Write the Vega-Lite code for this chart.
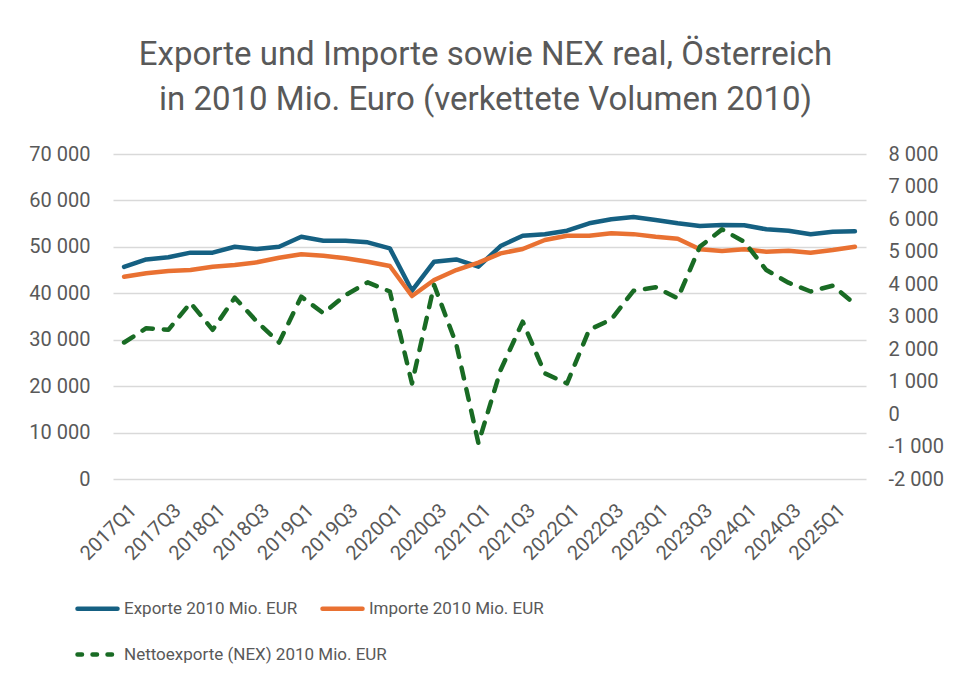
{
  "$schema": "https://vega.github.io/schema/vega-lite/v6.json",
  "width": 753,
  "height": 325,
  "autosize": {"type": "none"},
  "padding": {"left": 113, "top": 154, "right": 88, "bottom": 204},
  "background": "white",
  "config": {
    "locale": {"number": {"decimal": ",", "thousands": " ", "grouping": [3], "currency": ["", " €"], "minus": "-"}},
    "view": {"stroke": null},
    "font": "Roboto",
    "axis": {"labelColor": "#595959", "labelFontSize": 20, "labelFont": "Roboto", "ticks": false, "domain": false, "title": null},
    "legend": {"orient": "none", "direction": "horizontal", "title": null, "symbolType": "stroke", "symbolSize": 1600, "symbolStrokeWidth": 4.5, "labelFont": "Roboto", "labelFontSize": 17, "labelColor": "#595959", "labelOffset": 4, "labelLimit": 0}
  },
  "title": {
    "text": ["Exporte und Importe sowie NEX real, Österreich", "in 2010 Mio. Euro (verkettete Volumen 2010)"],
    "fontSize": 33,
    "font": "Roboto",
    "fontWeight": "normal",
    "color": "#595959",
    "lineHeight": 45,
    "anchor": "middle",
    "dx": -4,
    "offset": 27
  },
  "data": {
    "values": [
      {"q": "2017Q1", "Exporte": 45700, "Importe": 43570, "NEX": 2200},
      {"q": "2017Q2", "Exporte": 47300, "Importe": 44300, "NEX": 2640},
      {"q": "2017Q3", "Exporte": 47750, "Importe": 44800, "NEX": 2590},
      {"q": "2017Q4", "Exporte": 48750, "Importe": 45010, "NEX": 3420},
      {"q": "2018Q1", "Exporte": 48750, "Importe": 45720, "NEX": 2590},
      {"q": "2018Q2", "Exporte": 50030, "Importe": 46090, "NEX": 3580},
      {"q": "2018Q3", "Exporte": 49540, "Importe": 46670, "NEX": 2840},
      {"q": "2018Q4", "Exporte": 50030, "Importe": 47660, "NEX": 2200},
      {"q": "2019Q1", "Exporte": 52190, "Importe": 48390, "NEX": 3610},
      {"q": "2019Q2", "Exporte": 51330, "Importe": 48100, "NEX": 3100},
      {"q": "2019Q3", "Exporte": 51330, "Importe": 47530, "NEX": 3660},
      {"q": "2019Q4", "Exporte": 50970, "Importe": 46800, "NEX": 4050},
      {"q": "2020Q1", "Exporte": 49680, "Importe": 45870, "NEX": 3770},
      {"q": "2020Q2", "Exporte": 40560, "Importe": 39410, "NEX": 940},
      {"q": "2020Q3", "Exporte": 46800, "Importe": 42860, "NEX": 3970},
      {"q": "2020Q4", "Exporte": 47300, "Importe": 45010, "NEX": 2150},
      {"q": "2021Q1", "Exporte": 45720, "Importe": 46590, "NEX": -900},
      {"q": "2021Q2", "Exporte": 50180, "Importe": 48600, "NEX": 1350},
      {"q": "2021Q3", "Exporte": 52410, "Importe": 49540, "NEX": 2840},
      {"q": "2021Q4", "Exporte": 52700, "Importe": 51470, "NEX": 1250},
      {"q": "2022Q1", "Exporte": 53480, "Importe": 52410, "NEX": 940},
      {"q": "2022Q2", "Exporte": 55070, "Importe": 52410, "NEX": 2590},
      {"q": "2022Q3", "Exporte": 55930, "Importe": 52910, "NEX": 2910},
      {"q": "2022Q4", "Exporte": 56430, "Importe": 52740, "NEX": 3790},
      {"q": "2023Q1", "Exporte": 55780, "Importe": 52190, "NEX": 3900},
      {"q": "2023Q2", "Exporte": 55070, "Importe": 51760, "NEX": 3560},
      {"q": "2023Q3", "Exporte": 54490, "Importe": 49470, "NEX": 5150},
      {"q": "2023Q4", "Exporte": 54700, "Importe": 49100, "NEX": 5680},
      {"q": "2024Q1", "Exporte": 54640, "Importe": 49470, "NEX": 5300},
      {"q": "2024Q2", "Exporte": 53780, "Importe": 48960, "NEX": 4430},
      {"q": "2024Q3", "Exporte": 53480, "Importe": 49170, "NEX": 4040},
      {"q": "2024Q4", "Exporte": 52700, "Importe": 48740, "NEX": 3770},
      {"q": "2025Q1", "Exporte": 53260, "Importe": 49320, "NEX": 3950},
      {"q": "2025Q2", "Exporte": 53350, "Importe": 50030, "NEX": 3380}
    ]
  },
  "transform": [{"fold": ["Exporte", "Importe", "NEX"], "as": ["series", "value"]}],
  "encoding": {
    "x": {
      "field": "q",
      "type": "ordinal",
      "sort": null,
      "scale": {"type": "point", "padding": 0.5},
      "axis": {
        "values": ["2017Q1", "2017Q3", "2018Q1", "2018Q3", "2019Q1", "2019Q3", "2020Q1", "2020Q3", "2021Q1", "2021Q3", "2022Q1", "2022Q3", "2023Q1", "2023Q3", "2024Q1", "2024Q3", "2025Q1"],
        "labelAngle": -45,
        "labelAlign": "right",
        "labelBaseline": "middle",
        "labelPadding": 28,
        "labelOffset": 9,
        "grid": false
      }
    }
  },
  "layer": [
    {
      "transform": [{"filter": "datum.series !== 'NEX'"}],
      "mark": {"type": "line", "strokeWidth": 4.5, "strokeJoin": "round", "strokeCap": "round"},
      "encoding": {
        "y": {
          "field": "value",
          "type": "quantitative",
          "scale": {"domain": [0, 70000], "nice": false, "zero": false},
          "axis": {
            "orient": "left",
            "values": [0, 10000, 20000, 30000, 40000, 50000, 60000, 70000],
            "format": ",d",
            "grid": true,
            "gridColor": "#d9d9d9",
            "gridWidth": 1.5,
            "labelPadding": 23
          }
        },
        "color": {
          "field": "series",
          "type": "nominal",
          "scale": {"domain": ["Exporte", "Importe"], "range": ["#156082", "#E97132"]},
          "legend": {
            "legendX": -38,
            "legendY": 432,
            "columnPadding": 15,
            "labelExpr": "datum.value === 'Exporte' ? 'Exporte 2010 Mio. EUR' : 'Importe 2010 Mio. EUR'",
            "encoding": {"symbols": {"strokeCap": {"value": "round"}}}
          }
        }
      }
    },
    {
      "transform": [{"filter": "datum.series === 'NEX'"}],
      "mark": {"type": "line", "strokeWidth": 4.5, "strokeJoin": "round", "strokeCap": "round", "strokeDash": [11, 11]},
      "encoding": {
        "y": {
          "field": "value",
          "type": "quantitative",
          "scale": {"domain": [-2000, 8000], "nice": false, "zero": false},
          "axis": {
            "orient": "right",
            "values": [-2000, -1000, 0, 1000, 2000, 3000, 4000, 5000, 6000, 7000, 8000],
            "format": ",d",
            "grid": false,
            "labelPadding": 22
          }
        },
        "color": {
          "field": "series",
          "type": "nominal",
          "scale": {"domain": ["NEX"], "range": ["#196B24"]},
          "legend": {
            "legendX": -38,
            "legendY": 478,
            "symbolDash": [4.5, 10.5],
            "labelExpr": "'Nettoexporte (NEX) 2010 Mio. EUR'",
            "encoding": {"symbols": {"strokeCap": {"value": "round"}, "strokeDash": {"value": [4.5, 10.5]}}}
          }
        }
      }
    }
  ],
  "resolve": {"scale": {"y": "independent", "color": "independent"}, "legend": {"color": "independent"}}
}
